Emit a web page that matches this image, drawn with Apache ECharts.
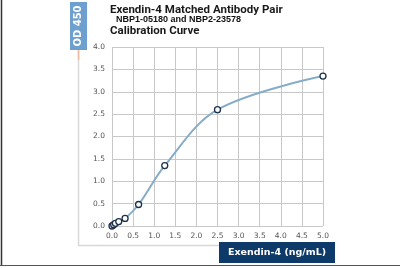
<!DOCTYPE html>
<html><head><meta charset="utf-8">
<script src="https://cdn.jsdelivr.net/npm/echarts@6/dist/echarts.min.js"></script>
<style>html,body{margin:0;padding:0;background:#fff}#c{width:400px;height:268px}</style>
</head><body><div id="c"></div>
<script>
var concentrations = [0, 0.04, 0.08, 0.16, 0.31, 0.63, 1.25, 2.5, 5.0];
var od450 = [0.0, 0.03, 0.06, 0.10, 0.17, 0.48, 1.35, 2.60, 3.35];
var titleLines = ['Exendin-4 Matched Antibody Pair', 'NBP1-05180 and NBP2-23578', 'Calibration Curve'];
var xName = 'Exendin-4 (ng/mL)';
var yName = 'OD 450';

var chart = echarts.init(document.getElementById('c'), null, {renderer: 'canvas'});
var pts = concentrations.map(function (c, i) { return [c, od450[i]]; });
chart.setOption({
  animation: false,
  grid: {left: 112, right: 77, top: 47, bottom: 42, containLabel: false},
  xAxis: {
    type: 'value', min: 0, max: 5, interval: 0.5,
    axisLine: {show: false}, axisTick: {show: false},
    splitLine: {show: true, lineStyle: {color: '#c8c8c8', width: 1}},
    axisLabel: {color: '#555', fontSize: 7.5, fontFamily: 'DejaVu Sans', margin: 6,
      formatter: function (v) { return v.toFixed(1); }}
  },
  yAxis: {
    type: 'value', min: 0, max: 4, interval: 0.5,
    axisLine: {show: false}, axisTick: {show: false},
    splitLine: {show: true, lineStyle: {color: '#c8c8c8', width: 1}},
    axisLabel: {color: '#555', fontSize: 7.5, fontFamily: 'DejaVu Sans', margin: 7,
      formatter: function (v) { return v.toFixed(1); }}
  },
  series: [{
    type: 'line', data: pts, smooth: 0.35,
    symbol: 'circle', symbolSize: 6,
    lineStyle: {color: '#86acc8', width: 2},
    itemStyle: {color: '#fff', borderColor: '#1c2f4a', borderWidth: 1.3}
  }],
  graphic: [
    {type: 'line', shape: {x1: 1.5, y1: 0, x2: 1.5, y2: 265}, style: {stroke: '#333', lineWidth: 1.5}},
    {type: 'line', shape: {x1: 0, y1: 265.5, x2: 400, y2: 265.5}, style: {stroke: '#555', lineWidth: 1}},
    {type: 'line', shape: {x1: 78.5, y1: 50, x2: 78.5, y2: 245}, style: {stroke: '#d8d8d8', lineWidth: 1.5}},
    {type: 'line', shape: {x1: 78.5, y1: 50, x2: 78.5, y2: 60}, style: {stroke: '#f0b8a0', lineWidth: 1.5}},
    {type: 'line', shape: {x1: 78, y1: 245.5, x2: 222, y2: 245.5}, style: {stroke: '#d8d8d8', lineWidth: 1.5}},
    {type: 'rect', shape: {x: 70, y: 2, width: 17, height: 48}, style: {fill: '#6d9fcf'}},
    {type: 'text', x: 78.5, y: 26, rotation: Math.PI / 2,
      style: {text: yName, fill: '#fff', font: 'bold 10px "DejaVu Sans"', align: 'center', verticalAlign: 'middle'}},
    {type: 'rect', shape: {x: 219, y: 242, width: 116, height: 21}, style: {fill: '#0e3a6a'}},
    {type: 'text', x: 277, y: 252.5,
      style: {text: xName, fill: '#fff', font: 'bold 9.5px "DejaVu Sans"', align: 'center', verticalAlign: 'middle'}},
    {type: 'text', x: 110, y: 10,
      style: {text: titleLines[0], fill: '#1a1a1a', font: 'bold 11.5px Roboto', align: 'left', verticalAlign: 'middle'}},
    {type: 'text', x: 116, y: 20,
      style: {text: titleLines[1], fill: '#111', font: 'bold 9px "Liberation Sans"', align: 'left', verticalAlign: 'middle'}},
    {type: 'text', x: 110, y: 31,
      style: {text: titleLines[2], fill: '#1a1a1a', font: 'bold 11.5px Roboto', align: 'left', verticalAlign: 'middle'}}
  ]
});
</script></body></html>
